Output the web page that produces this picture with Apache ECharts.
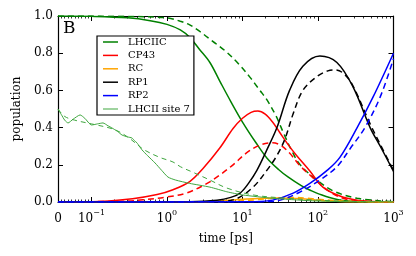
<!DOCTYPE html>
<html><head><meta charset="utf-8">
<script src="https://cdn.jsdelivr.net/npm/echarts@6/dist/echarts.min.js"></script>
<style>html,body{margin:0;padding:0;background:#fff}#c{width:416px;height:256px}</style>
</head><body><div id="c"></div>
<script>
// ---- data: [time (ps), population] ----
const LHCIIC_solid = [[0,1],[0.1,0.998],[0.3,0.99],[0.6,0.975],[1,0.955],[1.5,0.925],[2,0.885],[2.7,0.82],[3.7,0.75],[5,0.65],[7,0.54],[10,0.43],[15,0.32],[21,0.237],[30,0.175],[40,0.135],[60,0.088],[80,0.062],[100,0.045],[180,0.013],[300,0.003],[1000,0]];
const LHCIIC_dash = [[0,1],[0.3,0.998],[1,0.99],[1.5,0.972],[2,0.952],[2.7,0.918],[4,0.865],[6,0.81],[9,0.74],[12.6,0.67],[17,0.6],[21,0.55],[28,0.46],[35,0.37],[45,0.275],[58,0.2],[97,0.118],[158,0.06],[330,0.02],[1000,0.002]];
const CP43_solid = [[0,0],[0.1,0.001],[0.35,0.018],[0.74,0.04],[1.2,0.066],[2,0.11],[3,0.18],[5,0.29],[7.5,0.395],[10,0.45],[13,0.482],[16,0.489],[20,0.472],[25,0.43],[31,0.375],[40,0.31],[52,0.25],[78,0.167],[116,0.08],[195,0.032],[330,0.01],[600,0.002],[1000,0]];
const CP43_dash = [[0,0],[0.3,0.005],[0.48,0.012],[1,0.027],[1.8,0.048],[3.4,0.10],[5,0.145],[7.5,0.2],[11.4,0.265],[17,0.306],[25,0.318],[32,0.305],[42,0.263],[58,0.194],[86,0.13],[132,0.065],[215,0.02],[400,0.004],[1000,0]];
const RC_solid = [[0,0],[3,0.001],[6,0.008],[10,0.015],[20,0.02],[30,0.021],[60,0.018],[100,0.01],[200,0.003],[500,0.0005],[1000,0]];
const RC_dash = [[0,0],[5,0.002],[10,0.007],[15,0.012],[25,0.02],[40,0.025],[70,0.021],[100,0.015],[200,0.006],[500,0.001],[1000,0]];
const RP1_solid = [[0,0],[2,0.002],[4.6,0.01],[7,0.025],[9.3,0.048],[12,0.1],[15.5,0.17],[21,0.28],[28.6,0.40],[42,0.60],[63,0.73],[106,0.785],[178,0.75],[290,0.62],[490,0.40],[667,0.30],[1000,0.165]];
const RP1_dash = [[0,0],[4,0.002],[8,0.015],[13.8,0.08],[21,0.17],[28.6,0.25],[36.6,0.34],[46.5,0.47],[63,0.60],[97,0.675],[135,0.705],[170,0.71],[220,0.69],[290,0.625],[490,0.42],[667,0.31],[1000,0.17]];
const RP2_solid = [[0,0],[15,0.002],[25,0.01],[47,0.048],[78,0.10],[132,0.17],[195,0.24],[330,0.40],[537,0.565],[1000,0.80]];
const RP2_dash = [[0,0],[20,0.002],[31.7,0.01],[58,0.054],[106,0.118],[178,0.19],[270,0.29],[418,0.40],[667,0.565],[1000,0.77]];
const SITE7_solid = [[0,0.5],[0.01,0.47],[0.02,0.44],[0.03,0.425],[0.045,0.445],[0.066,0.468],[0.08,0.45],[0.1,0.414],[0.12,0.42],[0.142,0.425],[0.165,0.41],[0.187,0.398],[0.22,0.38],[0.254,0.36],[0.3,0.35],[0.344,0.344],[0.37,0.33],[0.4,0.318],[0.43,0.3],[0.467,0.28],[0.55,0.25],[0.694,0.21],[0.85,0.17],[1.03,0.134],[1.3,0.118],[2,0.10],[3.7,0.08],[6.2,0.055],[10,0.038],[25,0.02],[78,0.007],[200,0.002],[1000,0]];
const SITE7_dash = [[0,0.5],[0.02,0.46],[0.05,0.44],[0.1,0.42],[0.2,0.39],[0.3,0.35],[0.4,0.31],[0.5,0.28],[0.8,0.24],[1.2,0.215],[1.5,0.19],[2.2,0.16],[3.7,0.118],[6.2,0.075],[13.8,0.038],[39,0.02],[100,0.01],[300,0.003],[1000,0]];
const yTicks = [0, 0.2, 0.4, 0.6, 0.8, 1.0];
const xTickLabels = ['0', '10^-1', '10^0', '10^1', '10^2', '10^3'];
const legendNames = ['LHCIIC', 'CP43', 'RC', 'RP1', 'RP2', 'LHCII site 7'];

// ---- symlog-style mapping (linear below 0.1 ps) ----
const LIN = 33.5 / 75.5;
const XMIN = -1 - LIN;
function sx(t) { return t >= 0.1 ? Math.log10(t) : -1 - (0.1 - t) / 0.1 * LIN; }
const majorX = [XMIN, -1, 0, 1, 2, 3];
const minorX = [];
for (let k = 1; k <= 9; k++) minorX.push(sx(k * 0.01));
for (let n = -1; n <= 2; n++) for (let k = 2; k <= 9; k++) minorX.push(sx(k * Math.pow(10, n)));

function conv(arr) { return arr.map(p => [sx(p[0]), p[1]]); }

const SERIF = 'DejaVu Serif';
function xLabelFmt(v) {
  let i = majorX.findIndex(m => Math.abs(m - v) < 1e-6);
  const s = xTickLabels[i] || '';
  if (s.indexOf('^') < 0) return '{b|' + s + '}';
  const parts = s.split('^');
  return '{b|' + parts[0] + '}{s|' + parts[1].replace('-', '\u2212') + '}';
}

const baseX = { type: 'value', min: XMIN, max: 3, splitLine: { show: false } };
const xAxes = [
  Object.assign({}, baseX, { position: 'bottom',
    axisLine: { show: true, onZero: false, lineStyle: { color: '#000', width: 1.2 } },
    axisTick: { show: true, inside: true, length: 5, customValues: majorX, lineStyle: { color: '#000', width: 1 } },
    axisLabel: { show: true, customValues: majorX, margin: 5, formatter: xLabelFmt,
      rich: { b: { fontFamily: SERIF, fontSize: 12, color: '#000', padding: [6, 0, 0, 0] }, s: { fontFamily: SERIF, fontSize: 8, color: '#000', padding: [0, 0, 6, 0] } } },
    name: 'time [ps]', nameLocation: 'middle', nameGap: 31,
    nameTextStyle: { fontFamily: SERIF, fontSize: 12, color: '#000' } }),
  Object.assign({}, baseX, { position: 'bottom',
    axisLine: { show: false, onZero: false },
    axisTick: { show: true, inside: true, length: 2.5, customValues: minorX, lineStyle: { color: '#000', width: 0.8 } },
    axisLabel: { show: false } }),
  Object.assign({}, baseX, { position: 'top',
    axisLine: { show: true, onZero: false, lineStyle: { color: '#000', width: 1.2 } },
    axisTick: { show: true, inside: true, length: 5, customValues: majorX, lineStyle: { color: '#000', width: 1 } },
    axisLabel: { show: false } }),
  Object.assign({}, baseX, { position: 'top',
    axisLine: { show: false, onZero: false },
    axisTick: { show: true, inside: true, length: 2.5, customValues: minorX, lineStyle: { color: '#000', width: 0.8 } },
    axisLabel: { show: false } })
];
const baseY = { type: 'value', min: 0, max: 1, interval: 0.2, splitLine: { show: false } };
const yAxes = [
  Object.assign({}, baseY, { position: 'left',
    axisLine: { show: true, onZero: false, lineStyle: { color: '#000', width: 1.2 } },
    axisTick: { show: true, inside: true, length: 5, lineStyle: { color: '#000', width: 1 } },
    axisLabel: { show: true, margin: 5, fontFamily: SERIF, fontSize: 12, color: '#000',
      formatter: v => { const i = yTicks.findIndex(y => Math.abs(y - v) < 1e-6); return i >= 0 ? yTicks[i].toFixed(1) : ''; } },
    name: 'population', nameLocation: 'middle', nameGap: 34,
    nameTextStyle: { fontFamily: SERIF, fontSize: 12, color: '#000' } }),
  Object.assign({}, baseY, { position: 'right',
    axisLine: { show: true, onZero: false, lineStyle: { color: '#000', width: 1.2 } },
    axisTick: { show: true, inside: true, length: 5, lineStyle: { color: '#000', width: 1 } },
    axisLabel: { show: false } })
];

const C = { lhc: '#008000', cp: '#ff0000', rc: '#ffa500', rp1: '#000000', rp2: '#0000ff', s7: '#3fa63f' };
function ser(name, data, color, width, dash, z) {
  return { name: name, type: 'line', data: conv(data), xAxisIndex: 0, yAxisIndex: 0,
    symbol: 'none', smooth: 0.35, z: z || 2, clip: true,
    lineStyle: { color: color, width: width, type: dash ? dash : 'solid' },
    itemStyle: { color: color }, animation: false };
}
const series = [
  ser('LHCIIC', LHCIIC_solid, C.lhc, 1.5),
  ser('LHCIIC_d', LHCIIC_dash, C.lhc, 1.5, [6, 4]),
  ser('CP43', CP43_solid, C.cp, 1.5),
  ser('CP43_d', CP43_dash, C.cp, 1.5, [6, 4]),
  ser('RC', RC_solid, C.rc, 1.5),
  ser('RC_d', RC_dash, C.rc, 1.5, [6, 4]),
  ser('RP1', RP1_solid, C.rp1, 1.5),
  ser('RP1_d', RP1_dash, C.rp1, 1.5, [6, 4]),
  ser('RP2', RP2_solid, C.rp2, 1.5),
  ser('RP2_d', RP2_dash, C.rp2, 1.5, [6, 4]),
  ser('LHCII site 7', SITE7_solid, C.s7, 1, null, 3),
  ser('LHCII site 7_d', SITE7_dash, C.s7, 1, [5, 4], 3)
];
series[10].smooth = 0.2;

const ICON_THICK = 'path://M0,0L150,0L150,15L0,15Z';
const ICON_THIN = 'path://M0,0L150,0L150,10L0,10Z';

const chart = echarts.init(document.getElementById('c'), null, { renderer: 'canvas' });
chart.setOption({
  animation: false,
  backgroundColor: '#fff',
  grid: { left: 58, right: 22.5, top: 16, bottom: 54, containLabel: false },
  xAxis: xAxes,
  yAxis: yAxes,
  legend: {
    data: legendNames.map(n => ({ name: n, icon: n === 'LHCII site 7' ? ICON_THIN : ICON_THICK })),
    orient: 'vertical', left: 97, top: 36,
    itemWidth: 15, itemHeight: 10, itemGap: 3.4,
    symbolKeepAspect: true,
    padding: [1, 4, 1, 6],
    backgroundColor: '#fff', borderColor: '#000', borderWidth: 1.2, borderRadius: 0,
    selectedMode: false,
    textStyle: { fontFamily: SERIF, fontSize: 10, color: '#000', lineHeight: 10, padding: [0, 0, 0, 5] }
  },
  graphic: [{ type: 'text', left: 63, top: 20, z: 10,
    style: { text: 'B', fontFamily: SERIF, fontSize: 17, fill: '#000' } }],
  series: series
});
</script></body></html>
